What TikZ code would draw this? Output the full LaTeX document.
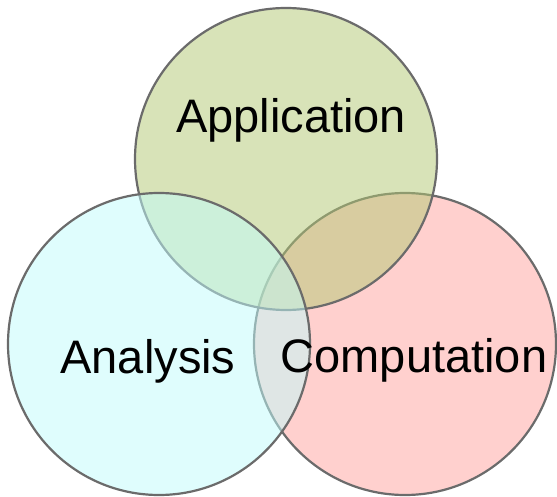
\documentclass[tikz,border=0pt]{standalone}
\usepackage{fontspec}
\setmainfont{Liberation Sans}

\tikzset{
    field/.style={shape=circle,draw=black!58,line width=2.2pt,fill opacity=0.5,minimum size=302pt,inner sep=0pt},
    word/.style={anchor=base,inner sep=0pt,font=\fontsize{47}{56}\selectfont}
}

\begin{document}
\begin{tikzpicture}[x=1pt,y=-1pt]
    \useasboundingbox[fill=white] (0,0) rectangle (557,497);

    % circles, lowest first
    \node[field,fill={rgb,255:red,255;green,163;blue,159}] (comp) at (405,344) {};
    \node[field,fill={rgb,255:red,179;green,201;blue,115}] (app) at (286,159) {};
    \node[field,fill={rgb,255:red,193;green,253;blue,253}] (ana) at (159,344) {};

    % labels
    \node[word] (appname) at (291,133) {Application};
    \node[word] (ananame) at (148,373) {Analysis};
    \node[word] (compname) at (414,372) {Computation};
\end{tikzpicture}
\end{document}
